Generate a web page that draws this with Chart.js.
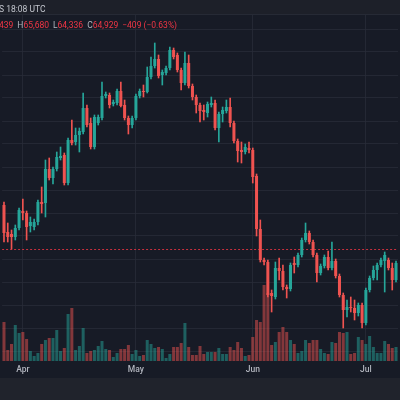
<!DOCTYPE html>
<html>
<head>
<meta charset="utf-8">
<script src="https://cdn.jsdelivr.net/npm/chart.js@4.4.1/dist/chart.umd.min.js"></script>
<style>
    html, body {
        margin: 0;
        padding: 0;
        width: 400px;
        height: 400px;
        overflow: hidden;
        background: #171b26;
        font-family: Roboto, "Noto Sans", sans-serif;
    }
    #chartBox {
        position: absolute;
        left: 0;
        top: 0;
        width: 400px;
        height: 378px;
    }
    #topBar {
        position: absolute;
        left: 0;
        top: 0;
        width: 400px;
        height: 14px;
        background: #1d2029;
        border-bottom: 1px solid #262a35;
    }
    #timeText {
        position: absolute;
        left: -1px;
        top: 4px;
        font-size: 8.5px;
        line-height: 11px;
        color: #c3c6ce;
        white-space: nowrap;
    }
    #ohlc {
        position: absolute;
        left: -1px;
        top: 20px;
        font-size: 8.5px;
        line-height: 11px;
        white-space: nowrap;
    }
    #ohlc .k { color: #b2b5be; }
    #ohlc .v { color: #f23645; margin-right: 4px; }
    #bottomBar {
        position: absolute;
        left: 0;
        top: 378px;
        width: 400px;
        height: 22px;
        background: #20232c;
    }
</style>
</head>
<body>
<div id="chartBox"><canvas id="candleChart"></canvas></div>
<div id="topBar"><div id="timeText">S 18:08 UTC</div></div>
<div id="ohlc"><span class="v">439</span><span class="k">H</span><span class="v">65,680</span><span class="k">L</span><span class="v">64,336</span><span class="k">C</span><span class="v">64,929</span><span class="v">−409 (−0.63%)</span></div>
<div id="bottomBar"></div>

<script>
// Daily candles, 27 Mar -> 9 Jul
const startDate = '2024-03-27';
const monthNames = ['Jan', 'Feb', 'Mar', 'Apr', 'May', 'Jun', 'Jul', 'Aug', 'Sep', 'Oct', 'Nov', 'Dec'];

const openPrices = [
    69300, 66600, 66400, 66100, 67000, 68700, 68500, 67200, 67100, 67600,
    69600, 69500, 72900, 72000, 72900, 74000, 74300, 71500, 75800, 75600,
    76300, 76600, 79000, 77500, 75100, 77500, 78000, 80200, 80300, 79400,
    79500, 80700, 79300, 78000, 77300, 78000, 80200, 80700, 80600, 82100,
    83200, 83900, 82300, 82500, 83000, 84800, 84300, 82800, 81500, 83500,
    81200, 80100, 79300, 78800, 78500, 79300, 79500, 77000, 78400, 78700,
    79100, 77500, 75700, 74800, 74600, 75000, 74800, 72200, 66900, 63800,
    63600, 60500, 60100, 63000, 62700, 61100, 60900, 63500, 63300, 64300,
    65800, 66500, 65600, 64300, 62500, 63200, 64100, 63000, 63700, 62200,
    60300, 58800, 59100, 59000, 58500, 59300, 57500, 60800, 62000, 62800,
    63300, 63700, 63800, 63000, 61800
];
const highPrices = [
    69600, 67500, 66800, 67300, 69000, 69900, 68700, 68100, 67900, 69800,
    71100, 73800, 74000, 73100, 74600, 75100, 74500, 76000, 77800, 77000,
    77000, 80500, 79300, 78000, 78300, 78300, 81600, 80600, 80500, 79800,
    80900, 81600, 79800, 78200, 78200, 80400, 80900, 81300, 83100, 84100,
    85500, 84300, 82800, 83200, 85100, 85000, 84500, 83000, 84600, 84300,
    81400, 80300, 79500, 79300, 79600, 80100, 79800, 78600, 79100, 79800,
    80000, 77700, 75900, 75600, 75400, 75600, 75000, 72400, 67800, 64000,
    63800, 60800, 63600, 64000, 63300, 61300, 63500, 64100, 64500, 66000,
    67500, 66700, 65800, 64500, 63400, 64300, 64700, 65600, 63900, 62400,
    60500, 59800, 60100, 59800, 59500, 59500, 61000, 62200, 63200, 63500,
    64000, 64600, 64000, 63500, 63700
];
const lowPrices = [
    65600, 65600, 64900, 65800, 66800, 67800, 65800, 66600, 66800, 67300,
    68500, 68100, 71800, 71400, 72700, 73800, 71300, 71300, 75300, 75300,
    74600, 76400, 77100, 74900, 74900, 77300, 77800, 80000, 79000, 79200,
    79300, 79100, 77800, 76400, 77000, 77800, 80000, 80100, 80500, 81900,
    83000, 82000, 81300, 82300, 82800, 83900, 82600, 80800, 81300, 81000,
    79800, 78500, 77600, 77800, 78100, 79100, 76800, 75600, 77600, 78500,
    77100, 75500, 73600, 73500, 74400, 74500, 71500, 66200, 63600, 63300,
    60100, 58600, 59900, 61800, 60800, 60000, 60700, 62500, 63100, 64100,
    65600, 65400, 64100, 61600, 62300, 63000, 62800, 62800, 62000, 60100,
    57000, 58100, 58600, 57800, 58200, 57000, 57300, 60600, 61800, 61800,
    63100, 60600, 62800, 60800, 61600
];
const closePrices = [
    66500, 66100, 66100, 67000, 68800, 68500, 67100, 67600, 67600, 69600,
    69400, 72900, 72000, 72900, 74100, 74200, 71500, 75800, 75500, 76300,
    76700, 79000, 77300, 75100, 78100, 78100, 80200, 80400, 79300, 79600,
    80700, 79200, 78000, 77300, 78000, 80200, 80700, 80600, 82100, 83200,
    83900, 82200, 82600, 83000, 84800, 84100, 82800, 81500, 83500, 81200,
    80100, 79300, 78700, 78600, 79400, 79500, 77000, 78400, 78800, 79100,
    77500, 75700, 74700, 74600, 75100, 74800, 72100, 66900, 63800, 63600,
    60300, 60200, 63000, 62700, 61100, 60900, 63300, 63300, 64300, 65800,
    66500, 65600, 64300, 62500, 63200, 64100, 63000, 63700, 62200, 60300,
    58800, 59100, 59000, 58500, 59300, 57500, 60800, 62000, 62800, 63300,
    63800, 64300, 63000, 61800, 63500
];
// volume, thousands
const volumes = [
    39, 11, 17, 36, 28, 29, 22, 10, 5, 8,
    17, 21, 23, 23, 31, 10, 13, 47, 53, 11,
    15, 33, 8, 10, 11, 15, 20, 12, 11, 4,
    8, 12, 12, 16, 7, 11, 5, 6, 21, 17,
    13, 14, 12, 3, 7, 14, 14, 18, 38, 14,
    6, 6, 15, 7, 9, 9, 9, 13, 7, 7,
    14, 11, 19, 13, 5, 6, 24, 41, 39, 76,
    68, 16, 19, 29, 34, 29, 21, 17, 8, 10,
    21, 18, 21, 21, 12, 8, 7, 19, 18, 29,
    28, 29, 7, 8, 24, 21, 17, 25, 14, 8,
    8, 20, 17, 13, 14
];
const lastPrice = 64929;

// price range of the pane and its horizontal grid
const priceMin = 53700;
const priceMax = 88300;
const gridBase = 54700;
const gridStep = 2300;
const volumeMax = 346;

const upColor = '#26a69a';
const downColor = '#ef5350';
const upVolColor = 'rgba(38, 166, 154, 0.5)';
const downVolColor = 'rgba(239, 83, 80, 0.5)';
const gridColor = 'rgba(42, 46, 57, 0.75)';

const dates = openPrices.map((o, i) => {
    const d = new Date(startDate + 'T00:00:00Z');
    d.setUTCDate(d.getUTCDate() + i);
    return d;
});
const labels = dates.map(d => monthNames[d.getUTCMonth()] + ' ' + d.getUTCDate());
const isMonthStart = i => dates[i] && dates[i].getUTCDate() === 1;

const isUp = openPrices.map((o, i) => closePrices[i] >= o);
const candleColors = isUp.map(u => u ? upColor : downColor);
const volumeColors = isUp.map(u => u ? upVolColor : downVolColor);

const priceLinePlugin = {
    id: 'priceLine',
    beforeDatasetsDraw(chart) {
        const { ctx, chartArea } = chart;
        const y = Math.round(chart.scales.y.getPixelForValue(lastPrice)) + 0.5;
        ctx.save();
        ctx.strokeStyle = 'rgba(242, 54, 69, 0.8)';
        ctx.lineWidth = 1;
        ctx.setLineDash([2, 2]);
        ctx.beginPath();
        ctx.moveTo(chartArea.left, y);
        ctx.lineTo(chartArea.right, y);
        ctx.stroke();
        ctx.restore();
    }
};

const canvasCtx = document.getElementById('candleChart').getContext('2d');
new Chart(canvasCtx, {
    type: 'bar',
    data: {
        labels: labels,
        datasets: [
            {
                label: 'Body',
                data: openPrices.map((o, i) => [o, closePrices[i]]),
                backgroundColor: candleColors,
                barPercentage: 0.8,
                categoryPercentage: 1,
                minBarLength: 1,
                grouped: false,
                yAxisID: 'y',
                order: 1
            },
            {
                label: 'Wick',
                data: lowPrices.map((l, i) => [l, highPrices[i]]),
                backgroundColor: candleColors,
                barThickness: 1,
                grouped: false,
                yAxisID: 'y',
                order: 2
            },
            {
                label: 'Volume',
                data: volumes,
                backgroundColor: volumeColors,
                barPercentage: 0.8,
                categoryPercentage: 1,
                grouped: false,
                yAxisID: 'v',
                order: 3
            }
        ]
    },
    options: {
        responsive: true,
        maintainAspectRatio: false,
        animation: false,
        layout: {
            padding: { top: 15, left: 0, right: 0, bottom: 0 }
        },
        plugins: {
            legend: { display: false },
            tooltip: { enabled: false }
        },
        scales: {
            x: {
                type: 'category',
                offset: true,
                grid: {
                    offset: false,
                    drawTicks: false,
                    color: ctx => isMonthStart(ctx.index) ? gridColor : 'transparent'
                },
                border: { display: false },
                ticks: {
                    autoSkip: false,
                    maxRotation: 0,
                    padding: 4,
                    color: '#b2b5be',
                    font: { family: 'Roboto, "Noto Sans", sans-serif', size: 8.5, weight: '500' },
                    callback: (value, index) => isMonthStart(index) ? monthNames[dates[index].getUTCMonth()] : ''
                },
                afterFit: scale => { scale.height = 17; }
            },
            y: {
                position: 'right',
                min: priceMin,
                max: priceMax,
                grid: { color: gridColor, drawTicks: false },
                border: { display: false },
                ticks: { display: false },
                afterBuildTicks: scale => {
                    const ticks = [];
                    for (let v = gridBase; v <= scale.max; v += gridStep) {
                        ticks.push({ value: v });
                    }
                    scale.ticks = ticks;
                },
                afterFit: scale => { scale.width = 0; }
            },
            v: {
                display: false,
                min: 0,
                max: volumeMax
            }
        }
    },
    plugins: [priceLinePlugin]
});
</script>
</body>
</html>
